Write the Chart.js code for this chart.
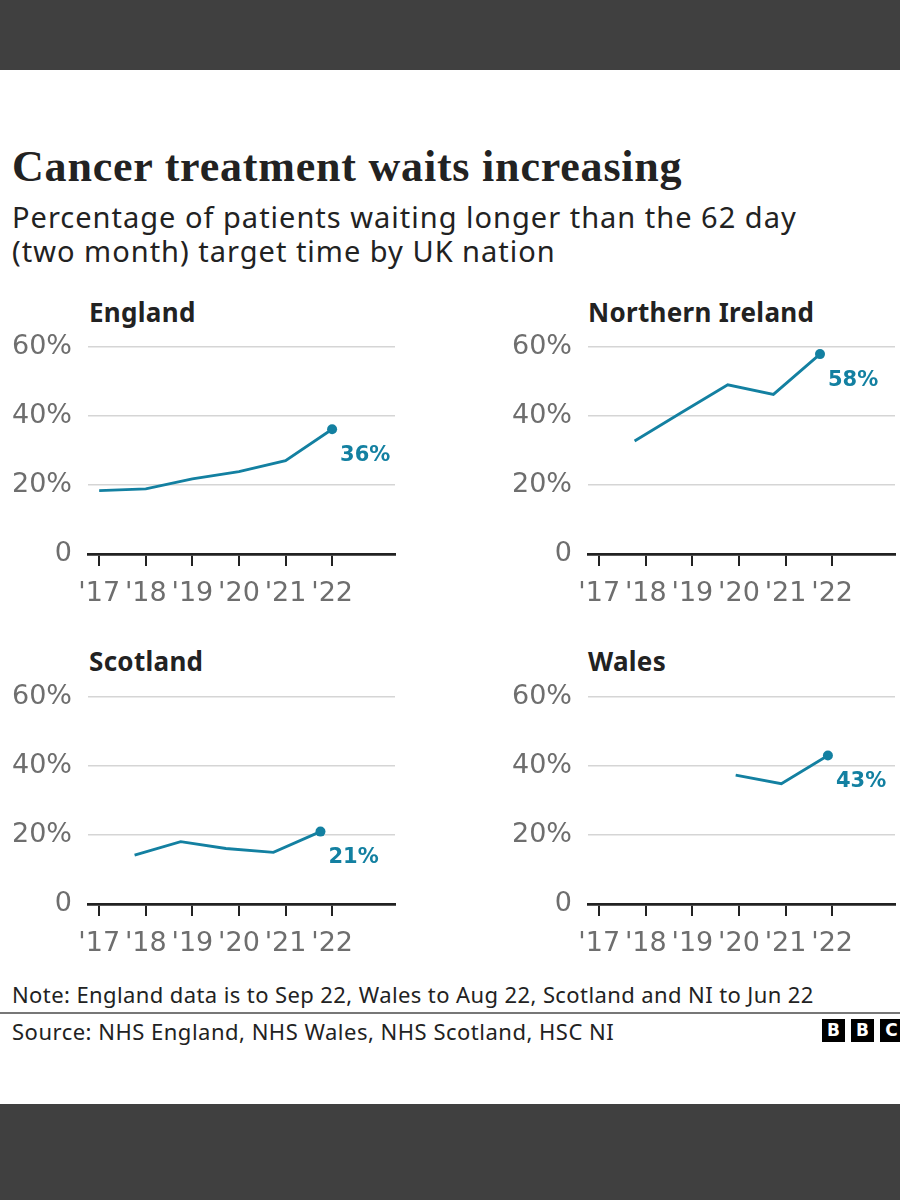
<!DOCTYPE html>
<html>
<head>
<meta charset="utf-8">
<script src="https://cdn.jsdelivr.net/npm/chart.js@4/dist/chart.umd.min.js"></script>
<style>
  html, body { margin: 0; padding: 0; }
  body { width: 900px; height: 1200px; position: relative; background: #fff; overflow: hidden; font-family: "Noto Sans", sans-serif; color: #222; }
  .band { position: absolute; left: 0; width: 900px; background: #404040; }
  .title { position: absolute; left: 12px; top: 142px; font-family: "Liberation Serif", serif; font-weight: bold; font-size: 44px; letter-spacing: 0.8px; line-height: 50px; white-space: nowrap; }
  .subtitle { position: absolute; left: 12px; top: 200px; font-size: 29px; letter-spacing: 1px; line-height: 34px; white-space: nowrap; }
  .panel-title { position: absolute; font-weight: bold; font-size: 26px; letter-spacing: 0.3px; line-height: 30px; white-space: nowrap; }
  canvas.panel { position: absolute; }
  .note { position: absolute; left: 12px; top: 980px; font-size: 22px; letter-spacing: 0.4px; line-height: 28px; white-space: nowrap; }
  .rule { position: absolute; left: 0; top: 1012px; width: 900px; height: 2px; background: #777; }
  .source { position: absolute; left: 12px; top: 1017px; font-size: 22px; letter-spacing: 0.5px; line-height: 28px; white-space: nowrap; }
  .bbc { position: absolute; top: 1019px; left: 822px; display: flex; gap: 6px; }
  .bbc span { width: 23px; height: 23px; background: #000; color: #fff; font-weight: bold; font-size: 17px; line-height: 23px; text-align: center; font-family: "DejaVu Sans", sans-serif; }
</style>
</head>
<body>
<div class="band" style="top:0;height:70px"></div>
<div class="band" style="top:1104px;height:96px"></div>

<div class="title">Cancer treatment waits increasing</div>
<div class="subtitle">Percentage of patients waiting longer than the 62 day<br>(two month) target time by UK nation</div>

<div class="panel-title" style="left:89px;top:297px">England</div>
<div class="panel-title" style="left:588px;top:297px">Northern Ireland</div>
<div class="panel-title" style="left:89px;top:646px">Scotland</div>
<div class="panel-title" style="left:588px;top:646px">Wales</div>

<canvas class="panel" id="england" width="392" height="299" style="left:8px;top:315px"></canvas>
<canvas class="panel" id="ni" width="392" height="299" style="left:508px;top:315px"></canvas>
<canvas class="panel" id="scotland" width="392" height="299" style="left:8px;top:665px"></canvas>
<canvas class="panel" id="wales" width="392" height="299" style="left:508px;top:665px"></canvas>

<div class="note">Note: England data is to Sep 22, Wales to Aug 22, Scotland and NI to Jun 22</div>
<div class="rule"></div>
<div class="source">Source: NHS England, NHS Wales, NHS Scotland, HSC NI</div>
<div class="bbc"><span>B</span><span>B</span><span>C</span></div>

<script>
// axis ticks
const yearTicks = [2017, 2018, 2019, 2020, 2021, 2022];
const yearLabels = ["'17", "'18", "'19", "'20", "'21", "'22"];
const pctTicks = [0, 20, 40, 60];

// series, x = position in years, value = % waiting over 62 days
const englandX = [2017, 2018, 2019, 2020, 2021, 2022];
const englandPct = [18.4, 18.9, 21.8, 23.9, 27.1, 36.2];

const niX = [2017.76, 2018.75, 2019.76, 2020.74, 2021.74];
const niPct = [32.8, 40.9, 49.1, 46.3, 58.0];

const scotlandX = [2017.76, 2018.75, 2019.72, 2020.74, 2021.75];
const scotlandPct = [14.2, 18.1, 16.1, 15.0, 21.0];

const walesX = [2019.93, 2020.91, 2021.91];
const walesPct = [37.4, 34.9, 43.1];

const teal = '#1380a1';
const grey = '#6e6e6e';

// label next to the last point
const endLabel = {
  id: 'endLabel',
  afterDatasetsDraw(chart) {
    const meta = chart.getDatasetMeta(0);
    const data = chart.data.datasets[0].data;
    const last = meta.data[meta.data.length - 1];
    const ctx = chart.ctx;
    ctx.save();
    ctx.fillStyle = teal;
    ctx.font = 'bold 21px "DejaVu Sans"';
    ctx.textAlign = 'left';
    ctx.textBaseline = 'middle';
    ctx.fillText(Math.round(data[data.length - 1].y) + '%', last.x + 8, last.y + 26);
    ctx.restore();
  }
};

function makeChart(id, xs, vals) {
  const points = xs.map((x, i) => ({ x, y: vals[i] }));
  new Chart(document.getElementById(id), {
    type: 'line',
    data: {
      datasets: [{
        data: points,
        borderColor: teal,
        backgroundColor: teal,
        borderWidth: 2.8,
        pointRadius: ctx => ctx.dataIndex === points.length - 1 ? 5 : 0,
        pointBorderWidth: 0,
        tension: 0,
        clip: false
      }]
    },
    options: {
      responsive: false,
      animation: false,
      events: [],
      layout: { padding: { top: 0, right: 3.7, left: 0, bottom: 0 } },
      plugins: { legend: { display: false }, tooltip: { enabled: false } },
      scales: {
        x: {
          type: 'linear',
          min: 2016.76,
          max: 2023.35,
          afterBuildTicks: s => { s.ticks = yearTicks.map(v => ({ value: v })); },
          afterFit: s => { s.height = 60; },
          border: { color: '#222', width: 2.7 },
          grid: { drawOnChartArea: false, drawTicks: true, tickLength: 12, color: '#222', lineWidth: 2 },
          ticks: {
            color: grey,
            font: { family: 'DejaVu Sans', size: 27 },
            padding: 12,
            maxRotation: 0,
            callback: (v, i) => yearLabels[i]
          }
        },
        y: {
          min: 0,
          max: 60,
          afterBuildTicks: s => { s.ticks = pctTicks.map(v => ({ value: v })); },
          afterFit: s => { s.width = 80; },
          border: { display: false },
          grid: { drawTicks: false, color: c => c.tick && c.tick.value === 0 ? 'rgba(0,0,0,0)' : '#d5d5d5', lineWidth: 1.5 },
          ticks: {
            color: grey,
            font: { family: 'DejaVu Sans', size: 27 },
            padding: 16,
            callback: v => v === 0 ? '0' : v + '%'
          }
        }
      }
    },
    plugins: [endLabel]
  });
}

makeChart('england', englandX, englandPct);
makeChart('ni', niX, niPct);
makeChart('scotland', scotlandX, scotlandPct);
makeChart('wales', walesX, walesPct);
</script>
</body>
</html>
